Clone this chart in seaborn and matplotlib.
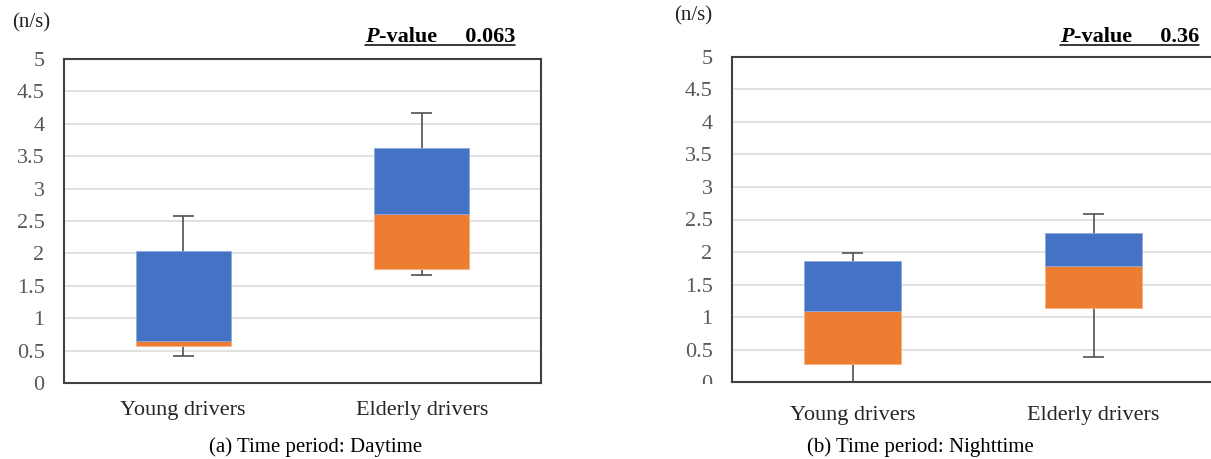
import matplotlib
matplotlib.use("Agg")
import matplotlib.pyplot as plt
from matplotlib.lines import Line2D
from matplotlib.transforms import Bbox
import pandas as pd
import seaborn as sns

# Box statistics (n/s) per driver group
groups = ["Young drivers", "Elderly drivers"]

day_min = [0.42, 1.66]
day_q1 = [0.57, 1.76]
day_median = [0.65, 2.61]
day_q3 = [2.04, 3.63]
day_max = [2.58, 4.17]

night_min = [0.0, 0.39]
night_q1 = [0.28, 1.14]
night_median = [1.09, 1.78]
night_q3 = [1.87, 2.30]
night_max = [1.99, 2.58]

p_values = ["0.063", "0.36"]
captions = ["(a) Time period: Daytime", "(b) Time period: Nighttime"]
y_ticks = [0, 0.5, 1, 1.5, 2, 2.5, 3, 3.5, 4, 4.5, 5]
y_tick_labels = ["0", "0.5", "1", "1.5", "2", "2.5", "3", "3.5", "4", "4.5", "5"]

BLUE = "#4472C4"
ORANGE = "#ED7D31"
SERIF = ["Liberation Serif", "DejaVu Serif"]

sns.set_theme(style="white")
plt.rcParams["font.family"] = SERIF

W, H = 1211, 459
fig = plt.figure(figsize=(W / 100, H / 100), dpi=100)

ax_day = fig.add_axes([64 / W, (H - 383) / H, 477 / W, 324 / H])
ax_night = fig.add_axes([732 / W, (H - 382.3) / H, 482 / W, 325.6 / H])


def draw_boxes(ax, lo, q1, med, q3, hi):
    df = pd.DataFrame({
        "group": groups,
        "lower": [m - a for a, m in zip(q1, med)],
        "upper": [b - m for m, b in zip(med, q3)],
    })
    pos = list(range(len(groups)))
    cap = 0.045
    # whiskers behind the boxes
    ax.vlines(pos, lo, hi, color="#505050", lw=1.2, zorder=2)
    ax.hlines(lo, [p - cap for p in pos], [p + cap for p in pos], color="#505050", lw=1.2, zorder=2)
    ax.hlines(hi, [p - cap for p in pos], [p + cap for p in pos], color="#505050", lw=1.2, zorder=2)
    # lower half (Q1 -> median) and upper half (median -> Q3)
    sns.barplot(data=df, x="group", y="lower", bottom=q1, color=ORANGE,
                saturation=1, width=0.4, errorbar=None, ax=ax,
                edgecolor="#F4B183", linewidth=0.6, zorder=3)
    sns.barplot(data=df, x="group", y="upper", bottom=med, color=BLUE,
                saturation=1, width=0.4, errorbar=None, ax=ax,
                edgecolor="#8FAADC", linewidth=0.6, zorder=3)


draw_boxes(ax_day, day_min, day_q1, day_median, day_q3, day_max)
draw_boxes(ax_night, night_min, night_q1, night_median, night_q3, night_max)

for ax in (ax_day, ax_night):
    ax.set_xlim(-0.5, 1.5)
    ax.set_ylim(0, 5)
    ax.set_yticks(y_ticks)
    ax.set_yticklabels(y_tick_labels)
    ax.set_xlabel("")
    ax.set_ylabel("")
    ax.yaxis.grid(True, color="#D9D9D9", lw=1.1, zorder=0)
    ax.xaxis.grid(False)
    ax.set_axisbelow(True)
    ax.tick_params(axis="y", length=0, pad=14, labelsize=16, labelcolor="#595959")
    for sp in ax.spines.values():
        sp.set_color("#404040")
        sp.set_linewidth(1.5)
        sp.set_visible(True)

ax_day.tick_params(axis="x", length=0, pad=13, labelsize=16, labelcolor="#262626")
ax_night.tick_params(axis="x", length=0, pad=17, labelsize=16, labelcolor="#262626")

# axis unit labels
fig.text(31 / W, 1 - 23 / H, "(n/s)", ha="center", va="center", fontsize=15, color="#222222")
fig.text(693 / W, 1 - 16 / H, "(n/s)", ha="center", va="center", fontsize=15, color="#222222")

# p-value annotations: bold-italic "P" followed by the value, underlined
fig.canvas.draw()
renderer = fig.canvas.get_renderer()
for x_right, y_base, pv in [(515, 42, p_values[0]), (1199, 42, p_values[1])]:
    t_val = fig.text(x_right / W, 1 - y_base / H, "-value     " + pv, ha="right", va="baseline",
                     fontsize=16, fontweight="bold", color="black")
    bb = t_val.get_window_extent(renderer)
    t_p = fig.text(bb.x0 / W, 1 - y_base / H, "P", ha="right", va="baseline",
                   fontsize=16, fontweight="bold", fontstyle="italic", color="black")
    bp = t_p.get_window_extent(renderer)
    y_line = (H - y_base - 2.5) / H
    fig.add_artist(Line2D([bp.x0 / W, bb.x1 / W], [y_line, y_line], color="black", lw=1.1))

# captions
fig.text(316 / W, 1 - 447 / H, captions[0], ha="center", va="center", fontsize=15, color="black")
fig.text(920 / W, 1 - 447 / H, captions[1], ha="center", va="center", fontsize=15, color="black")

# the lowest tick label of the right panel is cut at the frame edge
zero_lbl = ax_night.get_yticklabels()[0]
zero_lbl.set_clip_box(Bbox.from_extents(600, H - 384, 760, H))
zero_lbl.set_clip_on(True)

fig.savefig("out.png", dpi=100)
